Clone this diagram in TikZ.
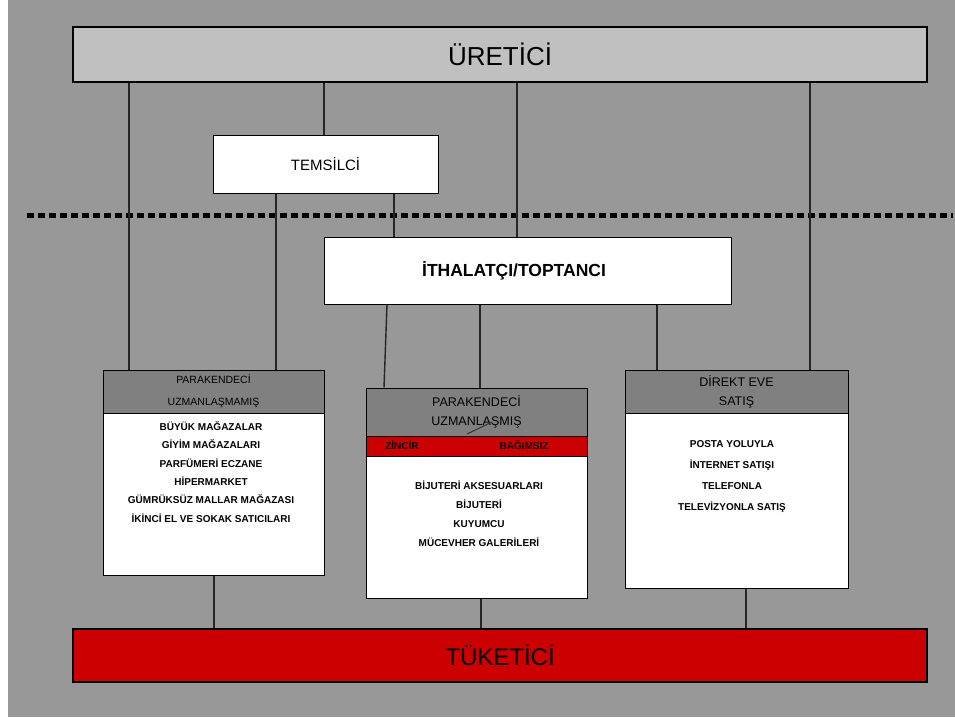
\documentclass[tikz,border=0pt]{standalone}
\usepackage{fontspec}
\setmainfont{Liberation Sans}
\usepackage{xcolor}
\usepackage{tikz}
\usetikzlibrary{arrows.meta,arrows}

\definecolor{bggray}{RGB}{152,152,152}
\definecolor{topgray}{RGB}{192,192,192}
\definecolor{headgray}{RGB}{128,128,128}
\definecolor{tred}{RGB}{204,0,0}

\begin{document}
\begin{tikzpicture}[x=1pt,y=-1pt,
  bigbox/.style={draw=black, line width=1.6pt, inner sep=0pt, anchor=center},
  box/.style={draw=black, line width=1pt, fill=white, inner sep=0pt, anchor=center},
  headbox/.style={draw=black, line width=1pt, fill=headgray, inner sep=0pt, anchor=center, align=center},
  itemtext/.style={align=center, inner sep=0pt, font=\fontsize{10}{#1}\selectfont\bfseries},
  link/.style={draw=black!85, line width=1.4pt}]
\useasboundingbox (0,0) rectangle (955,717);
\fill[bggray] (8,0) rectangle (955,717);

%%% The top and bottom bars
\node[bigbox, fill=topgray, minimum width=854pt, minimum height=55pt,
      font=\fontsize{26}{30}\selectfont] (uretici) at (500,54.5) {ÜRETİCİ};
\node[bigbox, fill=tred, minimum width=854pt, minimum height=53pt,
      font=\fontsize{24}{28}\selectfont] (tuketici) at (500,655.5) {TÜKETİCİ};

%%% The intermediaries
\node[box, minimum width=225pt, minimum height=58pt,
      font=\fontsize{15}{18}\selectfont] (temsilci) at (325.5,164) {TEMSİLCİ};
\node[box, minimum width=407pt, minimum height=67pt,
      font=\fontsize{17.5}{20}\selectfont\bfseries] (ithalatci) at (527.5,270.5) {\raisebox{3pt}{İTHALATÇI/TOPTANCI}\rule{27pt}{0pt}};

%%% The three retail boxes
\node[box, minimum width=221pt, minimum height=205pt] (uzmsiz) at (213.5,472.5) {};
\node[headbox, minimum width=221pt, minimum height=43pt,
      font=\fontsize{10.5}{22}\selectfont] (uzmsizh) at (213.5,391.5) {PARAKENDECİ\\UZMANLAŞMAMIŞ};
\node[itemtext=18.4pt] (uzmsizt) at (211,472) {BÜYÜK MAĞAZALAR\\GİYİM MAĞAZALARI\\PARFÜMERİ ECZANE\\HİPERMARKET\\GÜMRÜKSÜZ MALLAR MAĞAZASI\\İKİNCİ EL VE SOKAK SATICILARI};

\node[box, minimum width=221pt, minimum height=210pt] (uzm) at (476.5,493) {};
\node[headbox, minimum width=221pt, minimum height=48pt,
      font=\fontsize{12.5}{19}\selectfont] (uzmh) at (476.5,412) {PARAKENDECİ\\UZMANLAŞMIŞ};
\node[headbox, fill=tred, minimum width=221pt, minimum height=20pt] (uzmr) at (476.5,446) {};
\node[font=\fontsize{10}{12}\selectfont\bfseries, inner sep=0pt] (zincir) at (402,445) {ZİNCİR};
\node[font=\fontsize{10}{12}\selectfont\bfseries, inner sep=0pt] (bagimsiz) at (524,445) {BAĞIMSIZ};
\node[itemtext=19pt] (uzmt) at (479,513.5) {BİJUTERİ AKSESUARLARI\\BİJUTERİ\\KUYUMCU\\MÜCEVHER GALERİLERİ};

\node[box, minimum width=223pt, minimum height=218pt] (direkt) at (736.5,479) {};
\node[headbox, minimum width=223pt, minimum height=43pt,
      font=\fontsize{12.5}{19}\selectfont] (direkth) at (736.5,391.5) {DİREKT EVE\\SATIŞ};
\node[itemtext=21pt] (direktt) at (732,476.5) {POSTA YOLUYLA\\İNTERNET SATIŞI\\TELEFONLA\\TELEVİZYONLA SATIŞ};

%%% The dashed border line
\coordinate (dashL) at (27,215);
\coordinate (dashR) at (953,215);
\draw[line width=5pt, dash pattern=on 7pt off 4pt] (dashL) -- (dashR);

%%% The edges from the producer
\draw[link] ([xshift=-84.5pt]uzmsiz.north) -- ([xshift=-84.5pt]uzmsiz.north |- uretici.south);
\draw[link] ([xshift=-1.5pt]temsilci.north) -- ([xshift=-1.5pt]temsilci.north |- uretici.south);
\draw[link] ([xshift=-10.5pt]ithalatci.north) -- ([xshift=-10.5pt]ithalatci.north |- uretici.south);
\draw[link] ([xshift=73.5pt]direkt.north) -- ([xshift=73.5pt]direkt.north |- uretici.south);
%
\draw[link] ([xshift=-49.5pt]temsilci.south) -- ([xshift=-49.5pt]temsilci.south |- uzmsiz.north);
\draw[link] ([xshift=68.5pt]temsilci.south) -- ([xshift=68.5pt]temsilci.south |- ithalatci.north);
%
\draw[link] ([xshift=-140.5pt]ithalatci.south) -- ([xshift=-92.5pt]uzm.north);
\draw[link] ([xshift=3.5pt]uzm.north) -- ([xshift=3.5pt]uzm.north |- ithalatci.south);
\draw[link] ([xshift=-79.5pt]direkt.north) -- ([xshift=-79.5pt]direkt.north |- ithalatci.south);
%%%%%% The edges to the consumer
\draw[link] ([xshift=0.5pt]uzmsiz.south) -- ([xshift=0.5pt]uzmsiz.south |- tuketici.north);
\draw[link] ([xshift=4.5pt]uzm.south) -- ([xshift=4.5pt]uzm.south |- tuketici.north);
\draw[link] ([xshift=9.5pt]direkt.south) -- ([xshift=9.5pt]direkt.south |- tuketici.north);
% small stroke in the header
\draw[line width=1pt, black!80] ([shift={(-9.5,22)}]uzmh.center) -- ([shift={(15.5,10)}]uzmh.center);
\end{tikzpicture}
\end{document}
